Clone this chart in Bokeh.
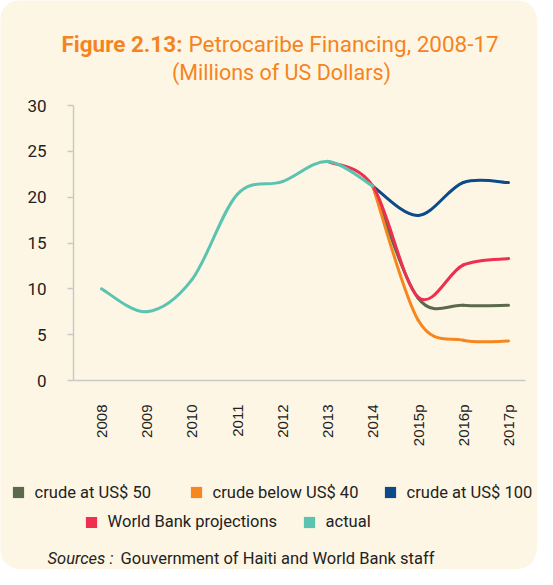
import numpy as np
from bokeh.plotting import figure
from bokeh.models import Range1d, FixedTicker, Label, Legend, LegendItem, ColumnDataSource
from bokeh.embed import file_html
from bokeh.resources import INLINE

# ---------------- data ----------------
categories = ["2008", "2009", "2010", "2011", "2012", "2013", "2014", "2015p", "2016p", "2017p"]
actual = [10.0, 7.5, 11.0, 20.3, 21.7, 23.9, 21.2, None, None, None]
wb_projections = [None, None, None, None, None, 23.9, 21.2, 9.1, 12.6, 13.3]
crude_50 = [None, None, None, None, None, None, 21.2, 9.0, 8.2, 8.2]
crude_40 = [None, None, None, None, None, None, 21.2, 6.6, 4.4, 4.3]
crude_100 = [None, None, None, None, None, None, 21.2, 18.0, 21.6, 21.6]
y_ticks = [0, 5, 10, 15, 20, 25, 30]

BG = "#FEF6E4"
C_50 = "#5B6A4C"
C_40 = "#F7861E"
C_100 = "#0D4A8A"
C_WB = "#EE2F50"
C_ACT = "#5BC4B0"
TITLE_C = "#F5841F"
TXT = "#222222"
AX = "#C9C9C9"

W, H = 537, 569
# plot area in canvas pixels
PX_L, PX_R = 73, 525          # axis extent
PX_FIRST, PX_LAST = 101, 508  # first / last category centre
PY_TOP, PY_BOT = 105, 380     # y = 30 / y = 0
sx = (PX_LAST - PX_FIRST) / (len(categories) - 1)
sy = (PY_BOT - PY_TOP) / 30.0
x_rng = Range1d(-PX_FIRST / sx, (len(categories) - 1) + (W - PX_LAST) / sx)
y_rng = Range1d(-(H - PY_BOT) / sy, 30 + PY_TOP / sy)

p = figure(width=W, height=H, output_backend="svg", toolbar_location=None, title=None,
           x_range=x_rng, y_range=y_rng,
           min_border=0, min_border_left=0, min_border_right=0, min_border_top=0, min_border_bottom=0)
p.background_fill_color = BG
p.border_fill_color = BG
p.outline_line_color = None
p.grid.visible = False
p.styles = {"border-radius": "20px", "overflow": "hidden"}

x_lo = (PX_L - PX_FIRST) / sx
x_hi = (PX_R - PX_FIRST) / sx

# axes (drawn inside the canvas-wide frame)
p.xaxis.fixed_location = 0
p.xaxis.bounds = (x_lo, x_hi)
p.xaxis.ticker = FixedTicker(ticks=list(range(len(categories))))
p.xaxis.major_label_overrides = {i: c for i, c in enumerate(categories)}
p.xaxis.major_label_orientation = np.pi / 2
p.xaxis.major_tick_line_color = None
p.xaxis.minor_tick_line_color = None
p.xaxis.axis_line_color = AX
p.xaxis.axis_line_width = 1.5
p.xaxis.major_label_standoff = 18
p.xaxis.major_label_text_font = "Liberation Sans"
p.xaxis.major_label_text_font_size = "15px"
p.xaxis.major_label_text_color = TXT

p.yaxis.fixed_location = x_lo
p.yaxis.bounds = (0, 30)
p.yaxis.ticker = FixedTicker(ticks=y_ticks)
p.yaxis.minor_tick_line_color = None
p.yaxis.major_tick_in = 0
p.yaxis.major_tick_out = 6
p.yaxis.major_tick_line_color = AX
p.yaxis.major_tick_line_width = 1.5
p.yaxis.axis_line_color = AX
p.yaxis.axis_line_width = 1.5
p.yaxis.major_label_standoff = 21
p.yaxis.major_label_text_font = "Roboto"
p.yaxis.major_label_text_font_size = "17px"
p.yaxis.major_label_text_color = TXT


def points(values):
    pts = [(i, v) for i, v in enumerate(values) if v is not None]
    return (np.array([q[0] for q in pts], float), np.array([q[1] for q in pts], float))


def smooth(values):
    xs, ys = points(values)
    n = len(xs)
    tx = np.zeros(n); ty = np.zeros(n)
    for i in range(n):
        a = max(i - 1, 0); b = min(i + 1, n - 1)
        tx[i] = (xs[b] - xs[a]) / 2.0
        ty[i] = (ys[b] - ys[a]) / 2.0
    return dict(x0=xs[:-1], y0=ys[:-1], x1=xs[1:], y1=ys[1:],
                cx0=xs[:-1] + tx[:-1] / 3, cy0=ys[:-1] + ty[:-1] / 3,
                cx1=xs[1:] - tx[1:] / 3, cy1=ys[1:] - ty[1:] / 3)


series = [("crude at US$ 50", crude_50, C_50), ("crude below US$ 40", crude_40, C_40),
          ("crude at US$ 100", crude_100, C_100), ("World Bank projections", wb_projections, C_WB),
          ("actual", actual, C_ACT)]
key_renderers = {}
for name, vals, col in series:
    src = ColumnDataSource(smooth(vals))
    p.bezier(x0="x0", y0="y0", x1="x1", y1="y1", cx0="cx0", cy0="cy0", cx1="cx1", cy1="cy1",
             source=src, line_color=col, line_width=3, line_cap="round")
    # zero-area quads on the series' points: they draw nothing, but give the legend a square key
    xs, ys = points(vals)
    key_renderers[name] = p.quad(left=xs, right=xs, top=ys, bottom=ys,
                                 fill_color=col, line_color=None)

# ---------------- legend (square keys) ----------------
GL = 14  # legend glyph box; area glyph fills 80% of it
legend_pos = [("crude at US$ 50", 12, 494.5),
              ("crude below US$ 40", 190, 494.5),
              ("crude at US$ 100", 384, 494.5),
              ("World Bank projections", 85, 524),
              ("actual", 303, 524)]
for name, kx, ky in legend_pos:
    lg = Legend(items=[LegendItem(label=name, renderers=[key_renderers[name]])],
                location=(kx - 0.1 * GL, H - (ky + GL / 2)),
                orientation="horizontal", padding=0, margin=0, spacing=0,
                glyph_width=GL, glyph_height=GL, label_height=GL, label_standoff=10,
                border_line_color=None, background_fill_alpha=0,
                label_text_font="Roboto", label_text_font_size="16.5px",
                label_text_color=TXT)
    p.add_layout(lg, "center")

# ---------------- titles / source ----------------
def lab(text, rx, ry, size, color, align="left", style="normal", font="Roboto"):
    p.add_layout(Label(text=text, x=rx, y=H - ry, x_units="screen", y_units="screen",
                       text_font=font, text_font_size=size, text_color=color,
                       text_align=align, text_baseline="alphabetic", text_font_style=style))

lab("Figure 2.13:", 182, 43, "22.5px", TITLE_C, align="right", style="bold")
lab("Petrocaribe Financing, 2008-17", 188, 43, "22.5px", TITLE_C)
lab("(Millions of US Dollars)", 281, 72, "21.5px", TITLE_C, align="center")
lab("Sources :", 47, 558, "16.5px", TXT, style="italic")
lab("Gouvernment of Haiti and World Bank staff", 120, 558, "16.5px", TXT)

open("out.html", "w").write(file_html(p, INLINE))
